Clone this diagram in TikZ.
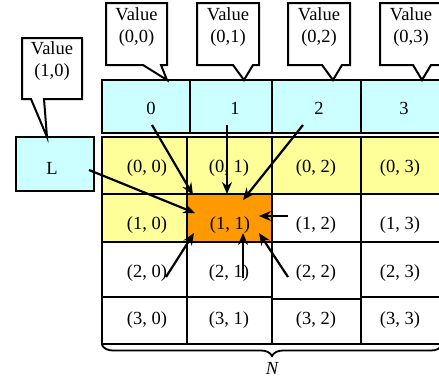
\documentclass[tikz,border=0pt]{standalone}
\usepackage{fontspec}
\setmainfont{Liberation Serif}
\usetikzlibrary{arrows.meta,decorations.pathreplacing}
\definecolor{hcyan}{RGB}{204,255,255}
\definecolor{cyel}{RGB}{255,255,153}
\definecolor{corange}{RGB}{255,153,0}
\begin{document}
\begin{tikzpicture}[x=1pt,y=-1pt,line width=2pt,
  font=\fontsize{18.5}{22}\selectfont,
  cell/.style={draw=black,inner sep=0pt,outer sep=0pt,anchor=north west},
  txt/.style={inner sep=0pt,align=center},
  callout/.style={draw=black,fill=white,line join=miter},
  arr/.style={-{Stealth[length=12pt,width=10pt,inset=4pt]},line width=2.2pt}]
\useasboundingbox (0,0) rectangle (439,381);
\clip (0,0) rectangle (439,381);
% header
\node[cell,fill=hcyan,minimum width=88pt,minimum height=53pt] (h0) at (102,80) {};
\node[cell,fill=hcyan,minimum width=82pt,minimum height=53pt] (h1) at (190,80) {};
\node[cell,fill=hcyan,minimum width=89pt,minimum height=53pt] (h2) at (272,80) {};
\node[cell,fill=hcyan,minimum width=81pt,minimum height=53pt] (h3) at (361,80) {};
\node[txt] (th0) at (151,108) {0};
\node[txt] (th1) at (235,108) {1};
\node[txt] (th2) at (319,108) {2};
\node[txt] (th3) at (404,108) {3};
% grid row 0
\node[cell,fill=cyel,minimum width=85pt,minimum height=57pt] (c00) at (102,137) {};
\node[cell,fill=cyel,minimum width=85pt,minimum height=57pt] (c01) at (187,137) {};
\node[cell,fill=cyel,minimum width=89pt,minimum height=57pt] (c02) at (272,137) {};
\node[cell,fill=cyel,minimum width=81pt,minimum height=57pt] (c03) at (361,137) {};
% row 1
\node[cell,fill=cyel,minimum width=85pt,minimum height=48pt] (c10) at (102,194) {};
\node[cell,fill=corange,minimum width=85pt,minimum height=48pt] (c11) at (187,194) {};
\node[cell,fill=white,minimum width=89pt,minimum height=48pt] (c12) at (272,194) {};
\node[cell,fill=white,minimum width=81pt,minimum height=48pt] (c13) at (361,194) {};
% row 2
\node[cell,fill=white,minimum width=85pt,minimum height=55pt] (c20) at (102,242) {};
\node[cell,fill=white,minimum width=85pt,minimum height=55pt] (c21) at (187,242) {};
\node[cell,fill=white,minimum width=89pt,minimum height=57pt] (c22) at (272,242) {};
\node[cell,fill=white,minimum width=81pt,minimum height=55pt] (c23) at (361,242) {};
% row 3
\node[cell,fill=white,minimum width=85pt,minimum height=47pt] (c30) at (102,297) {};
\node[cell,fill=white,minimum width=85pt,minimum height=47pt] (c31) at (187,297) {};
\node[cell,fill=white,minimum width=89pt,minimum height=45pt] (c32) at (272,299) {};
\node[cell,fill=white,minimum width=81pt,minimum height=47pt] (c33) at (361,297) {};
% cell texts
\node[txt] (t00) at (147,168) {(0, 0)};
\node[txt] (t01) at (229,168) {(0, 1)};
\node[txt] (t02) at (316,168) {(0, 2)};
\node[txt] (t03) at (400,168) {(0, 3)};
\node[txt] (t10) at (147,225) {(1, 0)};
\node[txt] (t11) at (230,225) {(1, 1)};
\node[txt] (t12) at (316,225) {(1, 2)};
\node[txt] (t13) at (400,225) {(1, 3)};
\node[txt] (t20) at (147,273) {(2, 0)};
\node[txt] (t21) at (229,273) {(2, 1)};
\node[txt] (t22) at (316,273) {(2, 2)};
\node[txt] (t23) at (400,273) {(2, 3)};
\node[txt] (t30) at (147,320) {(3, 0)};
\node[txt] (t31) at (229,320) {(3, 1)};
\node[txt] (t32) at (316,320) {(3, 2)};
\node[txt] (t33) at (400,320) {(3, 3)};
% L box
\node[cell,fill=hcyan,minimum width=78pt,minimum height=54pt] (Lbox) at (16,137) {};
\node[txt] (tL) at (52,168) {L};
% callouts
\filldraw[callout] (106,3) -- (167,3) -- (167,65) -- (161,65) -- (167,80) -- (143,65) -- (106,65) -- cycle;
\filldraw[callout] (197,3) -- (259,3) -- (259,65) -- (253,65) -- (244,80) -- (233,65) -- (197,65) -- cycle;
\filldraw[callout] (288,3) -- (350,3) -- (350,65) -- (342,65) -- (333,80) -- (322,65) -- (288,65) -- cycle;
\filldraw[callout] (380,3) -- (441,3) -- (441,65) -- (431,65) -- (422,80) -- (413,65) -- (380,65) -- cycle;
\filldraw[callout] (22,38) -- (82,38) -- (82,99) -- (44,99) -- (47,137) -- (31,99) -- (22,99) -- cycle;
\node[txt] (v00) at (136.5,27) {Value\\(0,0)};
\node[txt] (v01) at (228,27) {Value\\(0,1)};
\node[txt] (v02) at (319,27) {Value\\(0,2)};
\node[txt] (v03) at (411,27) {Value\\(0,3)};
\node[txt] (v10) at (52,61.5) {Value\\(1,0)};
% arrow end points
\coordinate (a0s) at (152,125); \coordinate (a0e) at (193,195);
\coordinate (a1s) at (227,125); \coordinate (a1e) at (227,194);
\coordinate (a2s) at (303,125); \coordinate (a2e) at (243,200);
\coordinate (aLs) at (89,170);  \coordinate (aLe) at (195,213);
\coordinate (a12s) at (288,216); \coordinate (a12e) at (259,216);
\coordinate (a20s) at (166,277); \coordinate (a20e) at (194,233);
\coordinate (a21s) at (243,278); \coordinate (a21e) at (243,233);
\coordinate (a22s) at (288,277); \coordinate (a22e) at (259,233);
\draw[arr] (a0s) -- (a0e);
\draw[arr] (a1s) -- (a1e);
\draw[arr] (a2s) -- (a2e);
\draw[arr] (aLs) -- (aLe);
\draw[arr] (a12s) -- (a12e);
\draw[arr] (a20s) -- (a20e);
\draw[arr] (a21s) -- (a21e);
\draw[arr] (a22s) -- (a22e);
% brace
\coordinate (brl) at (102,345); \coordinate (brr) at (442,345);
\draw[decorate,decoration={brace,mirror,amplitude=11pt},line width=1.8pt] (brl) -- (brr);
\node[txt] (tN) at (272,368) {\itshape N};
\end{tikzpicture}
\end{document}
